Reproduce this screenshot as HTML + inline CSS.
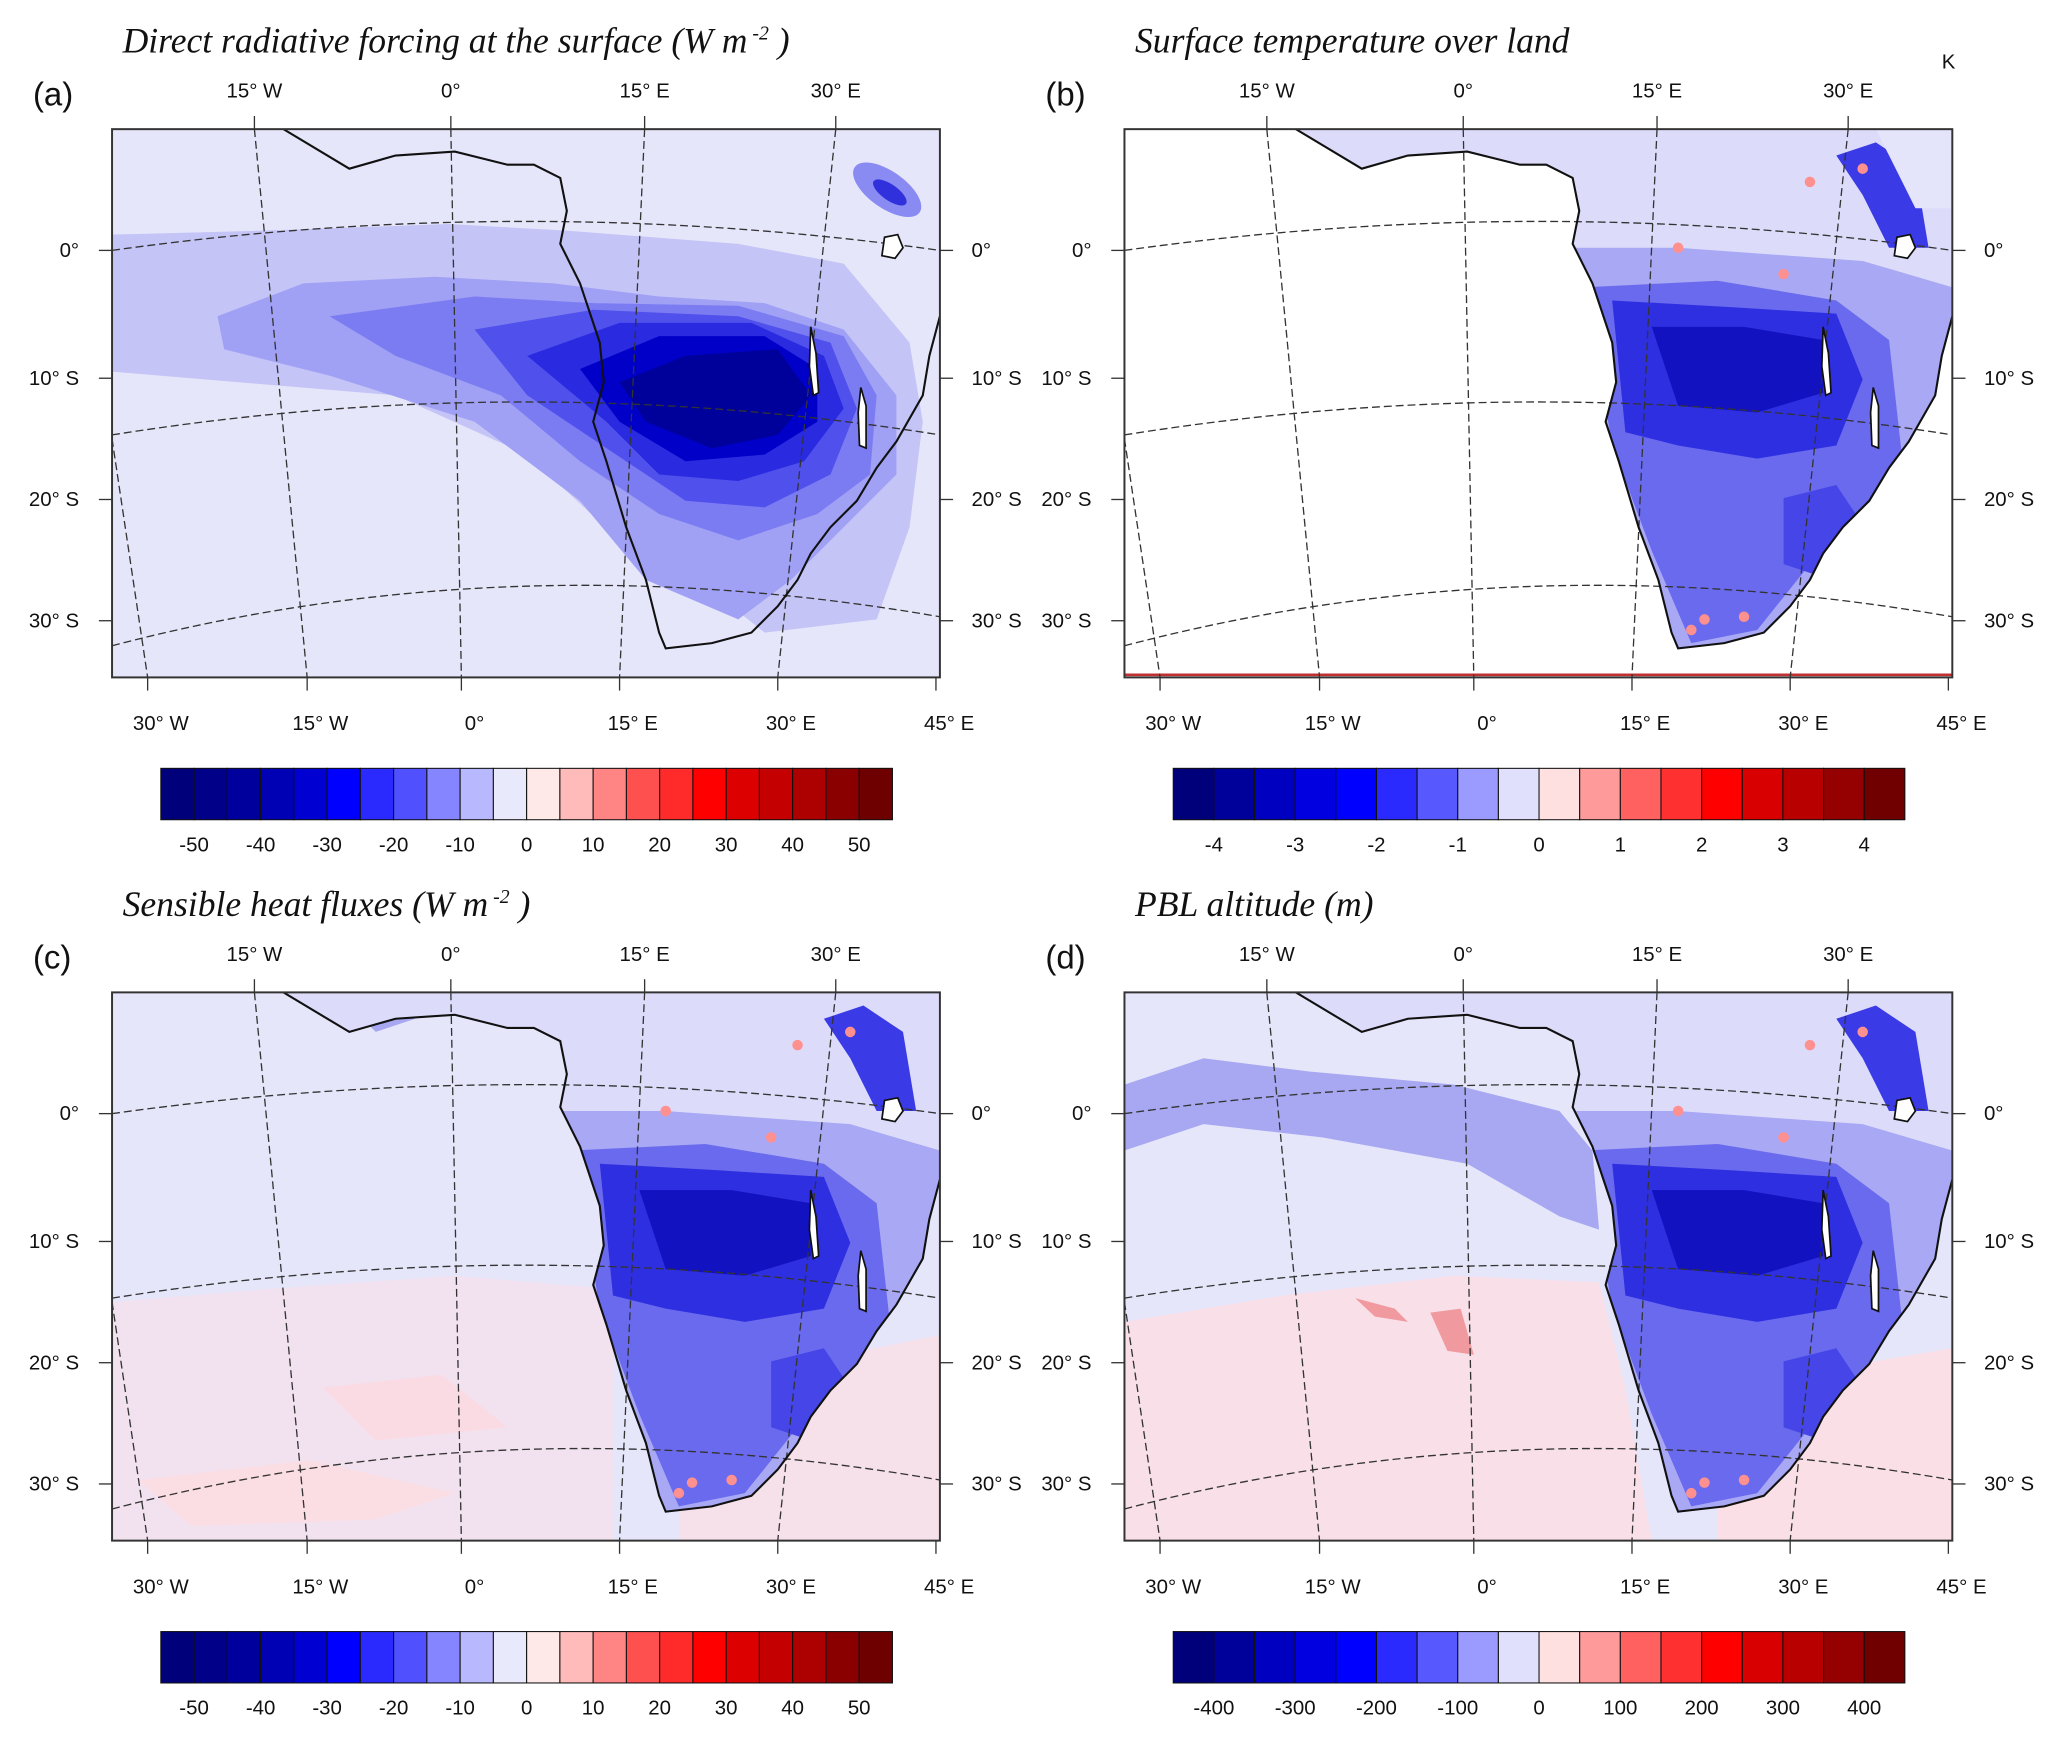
<!DOCTYPE html>
<html><head><meta charset="utf-8"><style>
html,body{margin:0;padding:0;background:#fff}
svg{display:block}
text{font-family:"Liberation Sans",sans-serif;fill:#111}
.t{font-family:"Liberation Serif",serif;font-style:italic;font-size:27px}
.lab{font-size:15.5px}
.pl{font-size:25px}
.grid{fill:none;stroke:#333;stroke-width:1;stroke-dasharray:6,3}
.coast{fill:none;stroke:#111;stroke-width:1.6}
</style></head><body>
<svg id="fig" width="2067" height="1737" viewBox="0 0 1568 1318" preserveAspectRatio="none" xmlns="http://www.w3.org/2000/svg">
<defs>
<clipPath id="box"><rect x="0" y="0" width="628" height="416"/></clipPath>
<clipPath id="land"><polygon points="130,0 180,30 215,20 260,17 300,27 320,27 340,37 345,62 340,87 355,117 370,162 373,192 365,222 375,252 390,302 405,342 415,382 420,394 455,390 485,382 505,362 520,342 530,322 545,302 565,282 580,257 595,237 615,202 620,172 628,142 628,0"/></clipPath>
</defs>
<g id="root"></g>
</svg>
<script>
// colorbar data
const levelsA = ["-50","-40","-30","-20","-10","0","10","20","30","40","50"];
const levelsB = ["-4","-3","-2","-1","0","1","2","3","4"];
const levelsC = ["-50","-40","-30","-20","-10","0","10","20","30","40","50"];
const levelsD = ["-400","-300","-200","-100","0","100","200","300","400"];
const colors22 = ["#00007a","#000088","#00009c","#0000b4","#0000d2","#0000ff","#2a2aff","#5050ff","#8585ff","#b8b8ff","#e9e9fc","#ffe8e8","#ffbaba","#ff8585","#ff5050","#ff2a2a","#ff0000","#dd0000","#c50000","#ad0000","#8a0000","#6e0000"];
const colors18 = ["#00007a","#00009a","#0000c0","#0000e0","#0000ff","#2a2aff","#5858ff","#9a9aff","#e0e0fc","#ffe0e0","#ff9a9a","#ff6060","#ff3030","#ff0000","#d80000","#b80000","#950000","#700000"];

const NS="http://www.w3.org/2000/svg";
const root=document.getElementById('root');
function mk(tag,attrs,parent){const e=document.createElementNS(NS,tag);for(const k in attrs)e.setAttribute(k,attrs[k]);(parent||root).appendChild(e);return e;}
function txt(x,y,s,cls,parent,anchor){const e=mk('text',{x:x,y:y,class:cls,'text-anchor':anchor||'middle'},parent);e.textContent=s;return e;}

const coast="M130,0 L180,30 L215,20 L260,17 L300,27 L320,27 L340,37 L345,62 L340,87 L355,117 L370,162 L373,192 L365,222 L375,252 L390,302 L405,342 L415,382 L420,394 L455,390 L485,382 L505,362 L520,342 L530,322 L545,302 L565,282 L580,257 L595,237 L615,202 L620,172 L628,142";

const panels=[
 {id:'a',x:85,y:98,title:'Direct radiative forcing at the surface (W m',sup:true,letter:'(a)',levels:levelsA,colors:colors22,ocean:'#e6e6fa'},
 {id:'b',x:853,y:98,title:'Surface temperature over land',sup:false,letter:'(b)',levels:levelsB,colors:colors18,ocean:'#ffffff'},
 {id:'c',x:85,y:753,title:'Sensible heat fluxes (W m',sup:true,letter:'(c)',levels:levelsC,colors:colors22,ocean:'#e6e6fa'},
 {id:'d',x:853,y:753,title:'PBL altitude (m)',sup:false,letter:'(d)',levels:levelsD,colors:colors18,ocean:'#e6e6fa'}
];

function poly(g,pts,fill,name){const p=mk('polygon',{points:pts,fill:fill},g);return p;}

function landBlobs(g,strong){
 const L=mk('g',{'clip-path':'url(#land)'},g);
 poly(L,"0,0 628,0 628,416 0,416","#dcdcfa","land-base");
 poly(L,"330,90 420,90 560,100 628,120 628,330 560,330 500,400 420,400 380,300 340,180","#a8a8f4","land-light");
 poly(L,"350,120 450,115 540,130 580,160 590,250 560,300 520,330 480,380 430,390 400,320 370,240 360,180","#6a6aee","land-mid");
 poly(L,"370,130 460,135 540,140 560,190 540,240 480,250 420,240 380,230","#2f2fe2","land-dark");
 poly(L,"400,150 470,150 530,160 530,200 480,215 420,210","#1212c0","land-core");
 poly(L,"540,20 570,10 600,30 610,90 580,90 560,50","#3a3ae6","land-ne");
 poly(L,"500,280 540,270 560,300 530,340 500,330","#4545e8","land-south");
 if(strong){poly(L,"570,0 628,0 628,60 600,60","#e4e4fb","land-corner");}
 [[520,40],[560,30],[420,90],[500,110],[430,380],[470,370],[440,372]].forEach(p=>{const c=mk('circle',{cx:p[0],cy:p[1],r:4,fill:'#ff9090'},L);});
 return L;
}

panels.forEach(P=>{
 const G=mk('g',{transform:`translate(${P.x},${P.y})`});
 
 
 // title
 const t=txt(8,-58,P.title,'t',G,'start');
 
 
 if(P.sup){const ts=mk('tspan',{dy:-10,'font-size':15},t);ts.textContent=' -2';const t2=mk('tspan',{dy:10},t);t2.textContent=' )';}
 const L=txt(-60,-18,P.letter,'pl',G,'start');
 
 
 // map
 const M=mk('g',{'clip-path':'url(#box)'},G);
 
 
 poly(M,"0,0 628,0 628,416 0,416",P.ocean,'ocean');
 if(P.id==='a'){
  poly(M,"0,80 115,77 255,72 345,77 475,87 555,102 605,162 615,222 605,302 580,372 495,382 445,342 385,312 315,247 215,202 0,184","#c4c4f7","level-5");
  poly(M,"80,142 145,117 245,112 335,117 415,127 495,132 555,152 595,202 595,262 565,292 515,342 475,372 405,342 355,282 275,222 165,187 85,167","#a0a0f5","level-10");
  poly(M,"165,142 275,127 365,132 475,134 555,157 580,202 575,262 535,292 475,312 415,292 355,252 295,202 215,172","#7c7cf2","level-15");
  poly(M,"275,152 365,137 475,142 545,162 565,212 545,262 495,287 435,282 375,242 315,202","#5050ec","level-20");
  poly(M,"315,172 385,147 485,147 540,172 555,212 525,252 475,267 415,262 375,222","#2a2ae0","level-25");
  poly(M,"355,182 415,157 495,157 535,182 535,222 495,247 435,252 385,222","#0000c8","level-30");
  poly(M,"385,192 435,172 505,167 530,202 505,232 455,242 405,222","#00009a","level-35");
  const e=mk('ellipse',{cx:588,cy:46,rx:30,ry:14,fill:'#8a8af3',transform:'rotate(35 588 46)'},M);
  
  const e2=mk('ellipse',{cx:590,cy:48,rx:15,ry:6,fill:'#3030dd',transform:'rotate(35 590 48)'},M);
  
 }
 if(P.id==='b'){ poly(M,"130,0 628,0 628,416 420,416","#ffffff","ocean-mask"); landBlobs(M,true);
  const r=mk('line',{x1:0,y1:414,x2:628,y2:414,stroke:'#c03030','stroke-width':2},M);}
 if(P.id==='c'){
  poly(M,"0,235 120,225 260,215 380,225 380,416 0,416","#f2e2ef","south-pink");
  poly(M,"430,300 628,260 628,416 430,416","#f6e0ea","se-pink");
  poly(M,"160,300 250,290 300,330 200,340","#fadbe4","pink-patch");
  poly(M,"20,370 150,355 260,380 200,400 60,405","#fbdde4","pink-patch-2");
  poly(M,"180,10 200,0 230,20 200,30","#a8a8f2","coast-blob");
  landBlobs(M,false);
 }
 if(P.id==='d'){
  poly(M,"0,70 60,50 140,60 250,70 330,90 355,120 360,180 330,170 260,130 150,110 60,100 0,120","#a8a8f2","itcz-band");
  poly(M,"0,250 120,230 250,215 360,220 380,300 400,416 0,416","#f8dfe8","south-pink");
  poly(M,"175,232 205,240 215,250 190,246","#f09aa0","pink-streak");
  poly(M,"232,243 255,240 265,275 245,272","#f09aa0","pink-streak-2");
  poly(M,"450,300 628,270 628,416 450,416","#fae0e6","se-pink");
  landBlobs(M,false);
 }
 // grid
 const gl=["M0,92 Q314,48 628,92","M0,232 Q314,182 628,232","M0,392 Q300,313 628,370","M108,0 L148,416","M257,0 L265,416","M404,0 L385,416","M549,0 L505,416","M0,235 L27,416"];
 gl.forEach((d,i)=>{const p=mk('path',{d:d,class:'grid'},M);});
 const c=mk('path',{d:coast,class:'coast'},M);
 [["M586,82 L596,80 L600,90 L594,98 L584,96 Z"],["M530,150 L534,170 L536,200 L532,202 L529,180 Z"],["M568,196 L572,210 L572,242 L567,240 L566,215 Z"]].forEach(d=>{const l=mk('path',{d:d[0],fill:'#fff',stroke:'#111','stroke-width':1.3},M);});
 const fr=mk('rect',{x:0,y:0,width:628,height:416,fill:'none',stroke:'#333','stroke-width':1.5},G);
 
 // ticks / labels
 const top=[[108,'15° W'],[257,'0°'],[404,'15° E'],[549,'30° E']];
 top.forEach(a=>{txt(a[0],-24,a[1],'lab',G);mk('line',{x1:a[0],y1:0,x2:a[0],y2:-10,stroke:'#333'},G);});
 const bot=[[27,'30° W'],[148,'15° W'],[265,'0°'],[385,'15° E'],[505,'30° E'],[625,'45° E']];
 bot.forEach(a=>{txt(a[0]+10,456,a[1],'lab',G);mk('line',{x1:a[0],y1:416,x2:a[0],y2:426,stroke:'#333'},G);});
 const lat=[[92,'0°'],[189,'10° S'],[281,'20° S'],[373,'30° S']];
 lat.forEach(a=>{txt(-25,a[0]+5,a[1],'lab',G,'end');mk('line',{x1:0,y1:a[0],x2:-10,y2:a[0],stroke:'#333'},G);
   txt(652,a[0]+5,a[1],'lab',G,'start');mk('line',{x1:628,y1:a[0],x2:638,y2:a[0],stroke:'#333'},G);});
 if(P.id==='b'){txt(620,-46,'K','lab',G,'start');}
 // colorbar
 const CB=mk('g',{transform:'translate(37,485)'},G);
 
 
 const W=555,n=P.colors.length,cw=W/n;
 P.colors.forEach((col,i)=>{const r=mk('rect',{x:i*cw,y:0,width:cw,height:39,fill:col,stroke:'#111','stroke-width':0.8},CB);
   });
 P.levels.forEach((s,i)=>{const t=txt((1+2*i)*cw,63,s,'lab',CB);});
});
</script>
</body></html>
